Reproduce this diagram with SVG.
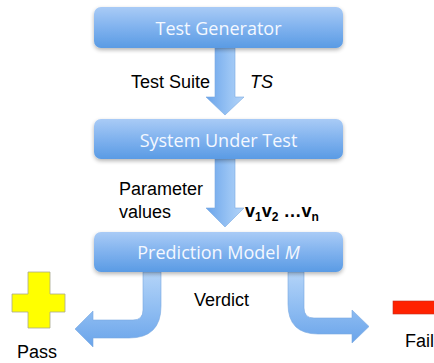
<svg xmlns="http://www.w3.org/2000/svg" width="434" height="363" viewBox="0 0 434 363">
  <style>
    .box { fill: url(#boxFill); }
    .boxText { font-family: "Open Sans", "Noto Sans", sans-serif; font-size: 18px; fill: #f4f8ff; text-anchor: middle; }
    .label { font-family: "Liberation Sans", Arial, sans-serif; font-size: 18px; fill: #000; }
    .arrow { fill: url(#arrowFill); stroke: #7aaae0; stroke-width: 0.6; }
  </style>
  <defs>
    <linearGradient id="boxFill" x1="0" y1="0" x2="0" y2="1">
      <stop offset="0" stop-color="#a9cbf6"/>
      <stop offset="0.5" stop-color="#80b2ee"/>
      <stop offset="1" stop-color="#5a9be4"/>
    </linearGradient>
    <linearGradient id="arrowFill" x1="0" y1="0" x2="1" y2="0">
      <stop offset="0" stop-color="#6aa4ea"/>
      <stop offset="0.6" stop-color="#98c3f4"/>
      <stop offset="1" stop-color="#b4d4f8"/>
    </linearGradient>
    <linearGradient id="bendFill" x1="0" y1="0" x2="0" y2="1">
      <stop offset="0" stop-color="#b4d4f8"/>
      <stop offset="0.5" stop-color="#8fbdf2"/>
      <stop offset="1" stop-color="#6aa4ea"/>
    </linearGradient>
    <filter id="shadow" x="-10%" y="-20%" width="120%" height="160%">
      <feGaussianBlur in="SourceAlpha" stdDeviation="2"/>
      <feOffset dy="2" result="b"/>
      <feComponentTransfer><feFuncA type="linear" slope="0.3"/></feComponentTransfer>
      <feMerge><feMergeNode/><feMergeNode in="SourceGraphic"/></feMerge>
    </filter>
  </defs>

  <!-- connectors -->
  <g id="connectors">
    <path class="arrow" d="M215,48 L235,48 L235,97 L244,97 L225,115 L206,97 L215,97 Z"/>
    <path class="arrow" d="M215,159 L235,159 L235,208 L244,208 L225,227 L206,208 L215,208 Z"/>
    <path class="arrow" style="fill:url(#bendFill)" d="M143,272 L161,272 L161,306 Q161,338 129,338 L93,338 L93,347 L75,329 L93,311 L93,320 L133,320 Q143,320 143,310 Z"/>
    <path class="arrow" style="fill:url(#bendFill)" d="M288,272 L304,272 L304,308 Q304,318 314,318 L352,318 L352,310 L369,326.5 L352,343 L352,334 L318,334 Q288,334 288,304 Z"/>
  </g>

  <g id="test-generator">
    <rect class="box" x="94" y="7" width="249" height="41" rx="7" filter="url(#shadow)"/>
    <text class="boxText" x="218.5" y="35">Test Generator</text>
  </g>

  <g id="system-under-test">
    <rect class="box" x="94" y="119" width="249" height="40" rx="7" filter="url(#shadow)"/>
    <text class="boxText" x="218.5" y="146.5">System Under Test</text>
  </g>

  <g id="prediction-model">
    <rect class="box" x="94" y="232" width="249" height="40" rx="7" filter="url(#shadow)"/>
    <text class="boxText" x="218.5" y="259">Prediction Model <tspan font-style="italic">M</tspan></text>
  </g>

  <g id="pass">
    <path d="M28,272 L50,272 L50,294 L65,294 L65,312 L50,312 L50,328 L28,328 L28,312 L12,312 L12,294 L28,294 Z" fill="#ffff00" stroke="#a8a890" stroke-width="0.8"/>
    <text class="label" x="17" y="358">Pass</text>
  </g>

  <g id="fail">
    <rect x="393" y="301" width="43" height="13" fill="#ff2200" stroke="#c03020" stroke-width="0.6"/>
    <text class="label" x="405" y="347">Fail</text>
  </g>

  <!-- edge labels -->
  <text class="label" x="131" y="88">Test Suite</text>
  <text class="label" x="250" y="88" font-style="italic">TS</text>
  <text class="label" x="119" y="195">Parameter</text>
  <text class="label" x="119" y="218">values</text>
  <text class="label" x="245" y="217" font-weight="bold">v<tspan font-size="12" dy="4">1</tspan><tspan dy="-4">v</tspan><tspan font-size="12" dy="4">2</tspan><tspan dy="-4"> …v</tspan><tspan font-size="12" dy="4">n</tspan></text>
  <text class="label" x="194" y="306">Verdict</text>
</svg>
